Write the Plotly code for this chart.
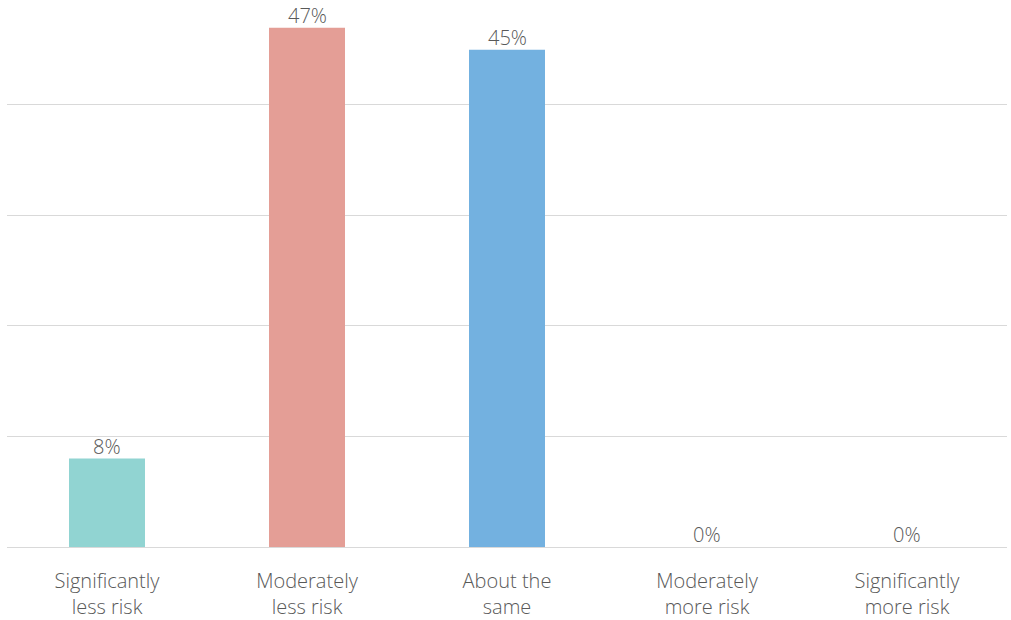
import plotly.graph_objects as go

categories = ["Significantly<br>less risk", "Moderately<br>less risk", "About the<br>same",
              "Moderately<br>more risk", "Significantly<br>more risk"]
values = [8, 47, 45, 0, 0]
labels = ["8%", "47%", "45%", "0%", "0%"]
colors = ["#91D4D2", "#E49E96", "#73B1E0", "#A5A5A5", "#A5A5A5"]

FONT = "Open Sans"
TXT = "#595959"

fig = go.Figure(go.Bar(
    x=categories, y=values, marker_color=colors, marker_line_width=0,
    hoverinfo="x+y",
))
for c, v, t in zip(categories, values, labels):
    fig.add_annotation(x=c, y=v, text=t, showarrow=False, yanchor="bottom",
                       yshift=-2, borderpad=0,
                       font=dict(family=FONT, size=20, color=TXT, weight=300))

fig.update_layout(
    width=1011, height=620,
    margin=dict(l=7, r=4, t=0, b=73, autoexpand=False),
    paper_bgcolor="white", plot_bgcolor="white",
    bargap=0.62, showlegend=False,
    font=dict(family=FONT, color=TXT),
)
fig.update_xaxes(tickfont=dict(family=FONT, size=20, color=TXT, weight=300),
                 showline=False, ticks="", ticklabelstandoff=20, automargin=False)
fig.update_yaxes(range=[0, 49.5], dtick=10, showticklabels=False, showgrid=True,
                 gridcolor="#D9D9D9", gridwidth=1, zeroline=True, zerolinecolor="#D9D9D9",
                 zerolinewidth=1, automargin=False)
fig.write_html("out.html")
